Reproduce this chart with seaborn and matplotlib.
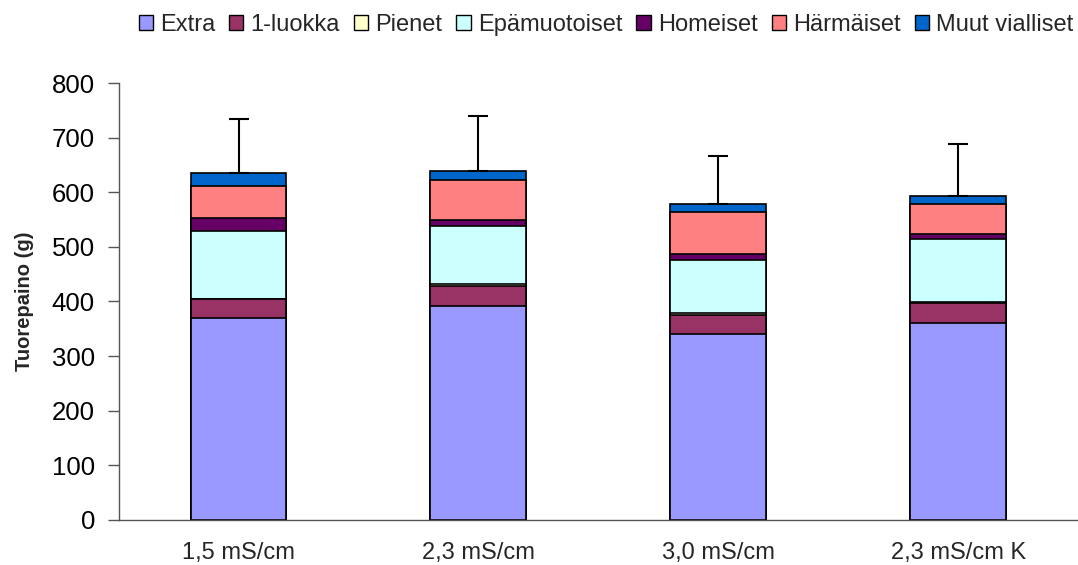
"""Stacked fresh weight by quality class for four EC treatments."""

import matplotlib
matplotlib.use("Agg")
import matplotlib.pyplot as plt
from matplotlib.patches import Patch
import numpy as np
import pandas as pd
import seaborn as sns

treatments = ["1,5 mS/cm", "2,3 mS/cm", "3,0 mS/cm", "2,3 mS/cm K"]
classes = ["Extra", "1-luokka", "Pienet", "Epämuotoiset", "Homeiset",
           "Härmäiset", "Muut vialliset"]
extra = [370, 391, 340, 361]
luokka1 = [34, 37, 35, 37]
pienet = [1, 4, 4, 1]
epamuotoiset = [124, 106, 96, 115]
homeiset = [24, 12, 11, 9]
harmaiset = [58, 73, 77, 55]
muut = [25, 16, 16, 15]
errors = [98, 101, 88, 96]

colors = ["#9999FF", "#993366", "#FFFFCC", "#CCFFFF", "#660066",
          "#FF8080", "#0066CC"]

layers = [extra, luokka1, pienet, epamuotoiset, homeiset, harmaiset, muut]
cum = np.cumsum(np.array(layers), axis=0)

sns.set_theme(style="white")
plt.rcParams["font.family"] = ["Liberation Sans", "DejaVu Sans"]

fig = plt.figure(figsize=(10.78, 5.65), dpi=100)
ax = fig.add_axes([0.110, 0.080, 0.890, 0.773])

# draw cumulative totals from the top layer down so lower ones cover
for i in range(len(layers) - 1, -1, -1):
    df = pd.DataFrame({"treatment": treatments, "value": cum[i]})
    sns.barplot(data=df, x="treatment", y="value", color=colors[i],
                saturation=1, width=0.4, edgecolor="black", linewidth=1.2,
                errorbar=None, ax=ax)

totals = cum[-1]
ax.errorbar(np.arange(len(treatments)), totals,
            yerr=[np.zeros(len(errors)), errors], fmt="none",
            ecolor="black", elinewidth=1.5, capsize=7, capthick=1.5)

ax.set_xlim(-0.5, 3.5)
ax.set_ylim(0, 800)
ax.set_yticks(range(0, 801, 100))
ax.tick_params(axis="y", labelsize=18.5, direction="out", length=8,
               width=1, left=True, pad=9, colors="#555555", labelcolor="black")
ax.tick_params(axis="x", labelsize=17, length=0, pad=16)
ax.set_xlabel("")
ax.set_ylabel("Tuorepaino (g)", fontsize=14.5, fontweight="bold", labelpad=13)
for side in ["top", "right"]:
    ax.spines[side].set_visible(False)
for side in ["left", "bottom"]:
    ax.spines[side].set_color("#555555")
    ax.spines[side].set_linewidth(1)

handles = [Patch(facecolor=c, edgecolor="black", linewidth=1) for c in colors]
fig.legend(handles, classes, loc="center", bbox_to_anchor=(0.562, 0.956),
           ncol=7, frameon=False, fontsize=17, handlelength=0.6,
           handleheight=0.6, handletextpad=0.3, columnspacing=0.6)

fig.savefig("out.png", dpi=100)
